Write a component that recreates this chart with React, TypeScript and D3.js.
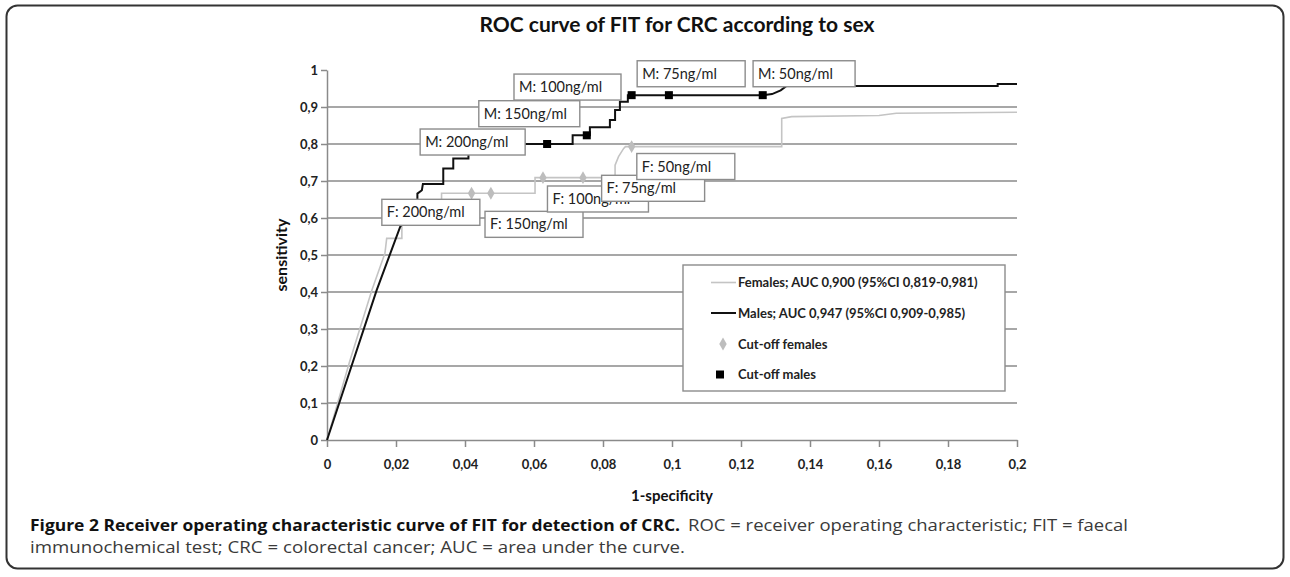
import { useEffect, useRef } from "react";
import { axisBottom, axisLeft, line, scaleLinear, select, symbol, symbolDiamond, ScaleLinear } from "d3";

// ROC curves: [1-specificity, sensitivity]
const femaleCurve: [number, number][] = [
  [0, 0], [0.0065, 0.21], [0.013, 0.405], [0.0168, 0.505], [0.0173, 0.545], [0.0217, 0.545],
  [0.0217, 0.58], [0.026, 0.6], [0.03, 0.62], [0.0332, 0.64], [0.0332, 0.667], [0.0603, 0.667],
  [0.0603, 0.709], [0.0835, 0.709], [0.0835, 0.743], [0.0845, 0.766], [0.086, 0.788], [0.0865, 0.793],
  [0.1318, 0.793], [0.1318, 0.869], [0.1347, 0.874], [0.16, 0.877], [0.165, 0.883], [0.2, 0.886]
];

const maleCurve: [number, number][] = [
  [0, 0], [0.0144, 0.405], [0.0212, 0.576], [0.024, 0.62], [0.0262, 0.65], [0.0262, 0.666],
  [0.0275, 0.675], [0.0278, 0.692], [0.0337, 0.692], [0.0337, 0.734], [0.0366, 0.734], [0.0366, 0.761],
  [0.041, 0.761], [0.041, 0.775], [0.046, 0.785], [0.048, 0.8], [0.0712, 0.8], [0.0712, 0.8235],
  [0.0762, 0.8235], [0.0762, 0.845], [0.082, 0.845], [0.082, 0.865], [0.0835, 0.865], [0.0835, 0.892],
  [0.0849, 0.892], [0.0849, 0.914], [0.0872, 0.914], [0.0872, 0.932], [0.1263, 0.932], [0.129, 0.935],
  [0.1315, 0.945], [0.1332, 0.957], [0.1944, 0.957], [0.1944, 0.962], [0.2, 0.962]
];

const cutoffNames = ["200ng/ml", "150ng/ml", "100ng/ml", "75ng/ml", "50ng/ml"];
const femaleCutoffX = [0.0419, 0.0475, 0.0626, 0.0742, 0.0883];
const femaleCutoffY = [0.667, 0.667, 0.709, 0.709, 0.793];
const maleCutoffX = [0.0638, 0.0753, 0.0883, 0.0991, 0.1263];
const maleCutoffY = [0.8, 0.8235, 0.932, 0.932, 0.932];

const xTicks = [0, 0.02, 0.04, 0.06, 0.08, 0.1, 0.12, 0.14, 0.16, 0.18, 0.2];
const yTicks = [0, 0.1, 0.2, 0.3, 0.4, 0.5, 0.6, 0.7, 0.8, 0.9, 1];
const gridTicks = [0.1, 0.2, 0.3, 0.4, 0.5, 0.6, 0.7, 0.8, 0.9];

const legendItems = [
  "Females; AUC 0,900 (95%CI 0,819-0,981)",
  "Males; AUC 0,947 (95%CI 0,909-0,985)",
  "Cut-off females",
  "Cut-off males"
];

const captionBold = "Figure 2 Receiver operating characteristic curve of FIT for detection of CRC.";
const captionLine1 = "ROC = receiver operating characteristic; FIT = faecal";
const captionLine2 = "immunochemical test; CRC = colorectal cancer; AUC = area under the curve.";

// where the annotation boxes sit (left / top in data units, width in px)
const femaleBoxes = [
  { left: 0.0159, top: 0.6505, w: 98 },
  { left: 0.0458, top: 0.618, w: 98 },
  { left: 0.0639, top: 0.6865, w: 101 },
  { left: 0.0796, top: 0.7154, w: 103 },
  { left: 0.0898, top: 0.7743, w: 98 }
];
const maleBoxes = [
  { left: 0.027, top: 0.8405, w: 105 },
  { left: 0.044, top: 0.917, w: 101 },
  { left: 0.0542, top: 0.989, w: 107 },
  { left: 0.0899, top: 1.025, w: 108 },
  { left: 0.1235, top: 1.025, w: 102 }
];

const FONT = "Lato, 'Open Sans', sans-serif";
const CAPTION_FONT = "'Open Sans', sans-serif";
const GRID = "#8a8a8a";
const FEMALE = "#c4c4c4";
const MALE = "#111";

const fmt = (d: number) => String(+d.toFixed(2)).replace(".", ",");

function AxisLeft({ scale, x }: { scale: ScaleLinear<number, number>; x: number }) {
  const ref = useRef<SVGGElement>(null);
  useEffect(() => {
    if (!ref.current) return;
    const g = select(ref.current);
    g.call(axisLeft(scale).tickValues(yTicks).tickSize(6).tickSizeOuter(0).tickPadding(3).tickFormat((d) => fmt(+d)));
    g.select(".domain").attr("stroke", GRID).attr("stroke-width", 1.5);
    g.selectAll(".tick line").attr("stroke", GRID).attr("stroke-width", 1.5);
    g.selectAll(".tick text")
      .attr("font-family", FONT)
      .attr("font-weight", "bold")
      .attr("font-size", 13)
      .attr("fill", "#222");
  }, [scale]);
  return <g ref={ref} transform={`translate(${x},0)`} />;
}

function AxisBottom({ scale, y }: { scale: ScaleLinear<number, number>; y: number }) {
  const ref = useRef<SVGGElement>(null);
  useEffect(() => {
    if (!ref.current) return;
    const g = select(ref.current);
    g.call(axisBottom(scale).tickValues(xTicks).tickSize(7).tickSizeOuter(0).tickPadding(13).tickFormat((d) => fmt(+d)));
    g.select(".domain").attr("stroke", GRID).attr("stroke-width", 1.5);
    g.selectAll(".tick line").attr("stroke", GRID).attr("stroke-width", 1.5);
    g.selectAll(".tick text")
      .attr("font-family", FONT)
      .attr("font-weight", "bold")
      .attr("font-size", 13)
      .attr("fill", "#222");
  }, [scale]);
  return <g ref={ref} transform={`translate(0,${y})`} />;
}

function LabelBox({ x, y, w, text }: { x: number; y: number; w: number; text: string }) {
  const h = 26;
  return (
    <g>
      <rect x={x} y={y} width={w} height={h} fill="#fff" stroke="#8c8c8c" strokeWidth={1.4} />
      <text x={x + 5} y={y + h / 2} dy="0.35em" fontFamily={FONT} fontSize={14.5} fill="#222">
        {text}
      </text>
    </g>
  );
}

export default function App() {
  const W = 1290;
  const H = 577;
  const margin = { left: 327, top: 70, right: 273, bottom: 137 };
  const x = scaleLinear().domain([0, 0.2]).range([margin.left, W - margin.right]);
  const y = scaleLinear().domain([0, 1]).range([H - margin.bottom, margin.top]);

  const path = line<[number, number]>()
    .x((d) => x(d[0]))
    .y((d) => y(d[1]));
  const diamond = symbol().type(symbolDiamond).size(48)();

  const legend = { x: 683, y: 265, w: 322, h: 126 };
  const rowY = [282.5, 313, 344, 374.5];

  return (
    <svg width={W} height={H} style={{ position: "absolute", left: 0, top: 0 }}>
      <rect x={6.5} y={5.5} width={1277} height={563} rx={11} fill="#fff" stroke="#333" strokeWidth={2} />

      <text x={677} y={32} textAnchor="middle" fontFamily={FONT} fontWeight="bold" fontSize={21} fill="#111">
        ROC curve of FIT for CRC according to sex
      </text>

      {gridTicks.map((t) => (
        <line key={`grid-${t}`} x1={x(0)} x2={x(0.2)} y1={y(t)} y2={y(t)} stroke={GRID} strokeWidth={1.5} />
      ))}

      <AxisLeft scale={y} x={x(0)} />
      <AxisBottom scale={x} y={y(0)} />

      <path d={path(femaleCurve) ?? ""} fill="none" stroke={FEMALE} strokeWidth={1.6} />
      <path d={path(maleCurve) ?? ""} fill="none" stroke={MALE} strokeWidth={2} />

      {femaleCutoffX.map((v, i) => (
        <path key={`fd-${i}`} d={diamond} transform={`translate(${x(v)},${y(femaleCutoffY[i])})`} fill="#bdbdbd" />
      ))}
      {maleCutoffX.map((v, i) => (
        <rect key={`ms-${i}`} x={x(v) - 4} y={y(maleCutoffY[i]) - 4} width={8} height={8} fill="#000" />
      ))}

      {cutoffNames.map((n, i) => (
        <LabelBox key={`fb-${n}`} x={x(femaleBoxes[i].left)} y={y(femaleBoxes[i].top)} w={femaleBoxes[i].w} text={`F: ${n}`} />
      ))}
      {cutoffNames.map((n, i) => (
        <LabelBox key={`mb-${n}`} x={x(maleBoxes[i].left)} y={y(maleBoxes[i].top)} w={maleBoxes[i].w} text={`M: ${n}`} />
      ))}

      <g>
        <rect x={legend.x} y={legend.y} width={legend.w} height={legend.h} fill="#fff" stroke="#8c8c8c" strokeWidth={1.4} />
        <line x1={711} x2={736} y1={rowY[0]} y2={rowY[0]} stroke={FEMALE} strokeWidth={1.6} />
        <line x1={711} x2={736} y1={rowY[1]} y2={rowY[1]} stroke={MALE} strokeWidth={2} />
        <path d={diamond} transform={`translate(723,${rowY[2]})`} fill="#bdbdbd" />
        <rect x={716} y={rowY[3] - 4} width={8} height={8} fill="#000" />
        {legendItems.map((t, i) => (
          <text key={t} x={738} y={rowY[i]} dy="0.35em" fontFamily={FONT} fontWeight="bold" fontSize={13} fill="#222">
            {t}
          </text>
        ))}
      </g>

      <text
        transform={`translate(281,${(y(0) + y(1)) / 2}) rotate(-90)`}
        textAnchor="middle"
        dy="0.35em"
        fontFamily={FONT}
        fontWeight="bold"
        fontSize={16}
        fill="#111"
      >
        sensitivity
      </text>
      <text x={(x(0) + x(0.2)) / 2} y={501} textAnchor="middle" fontFamily={FONT} fontWeight="bold" fontSize={15} fill="#111">
        1-specificity
      </text>

      <text x={30} y={531} fontFamily={CAPTION_FONT} fontSize={16.5} fontWeight="bold" fill="#111"
        textLength={650} lengthAdjust="spacingAndGlyphs">
        {captionBold}
      </text>
      <text x={688} y={531} fontFamily={CAPTION_FONT} fontSize={16.5} fill="#3a3a3a"
        textLength={440} lengthAdjust="spacingAndGlyphs">
        {captionLine1}
      </text>
      <text x={30} y={553} fontFamily={CAPTION_FONT} fontSize={16.5} fill="#3a3a3a"
        textLength={655} lengthAdjust="spacingAndGlyphs">
        {captionLine2}
      </text>
    </svg>
  );
}
